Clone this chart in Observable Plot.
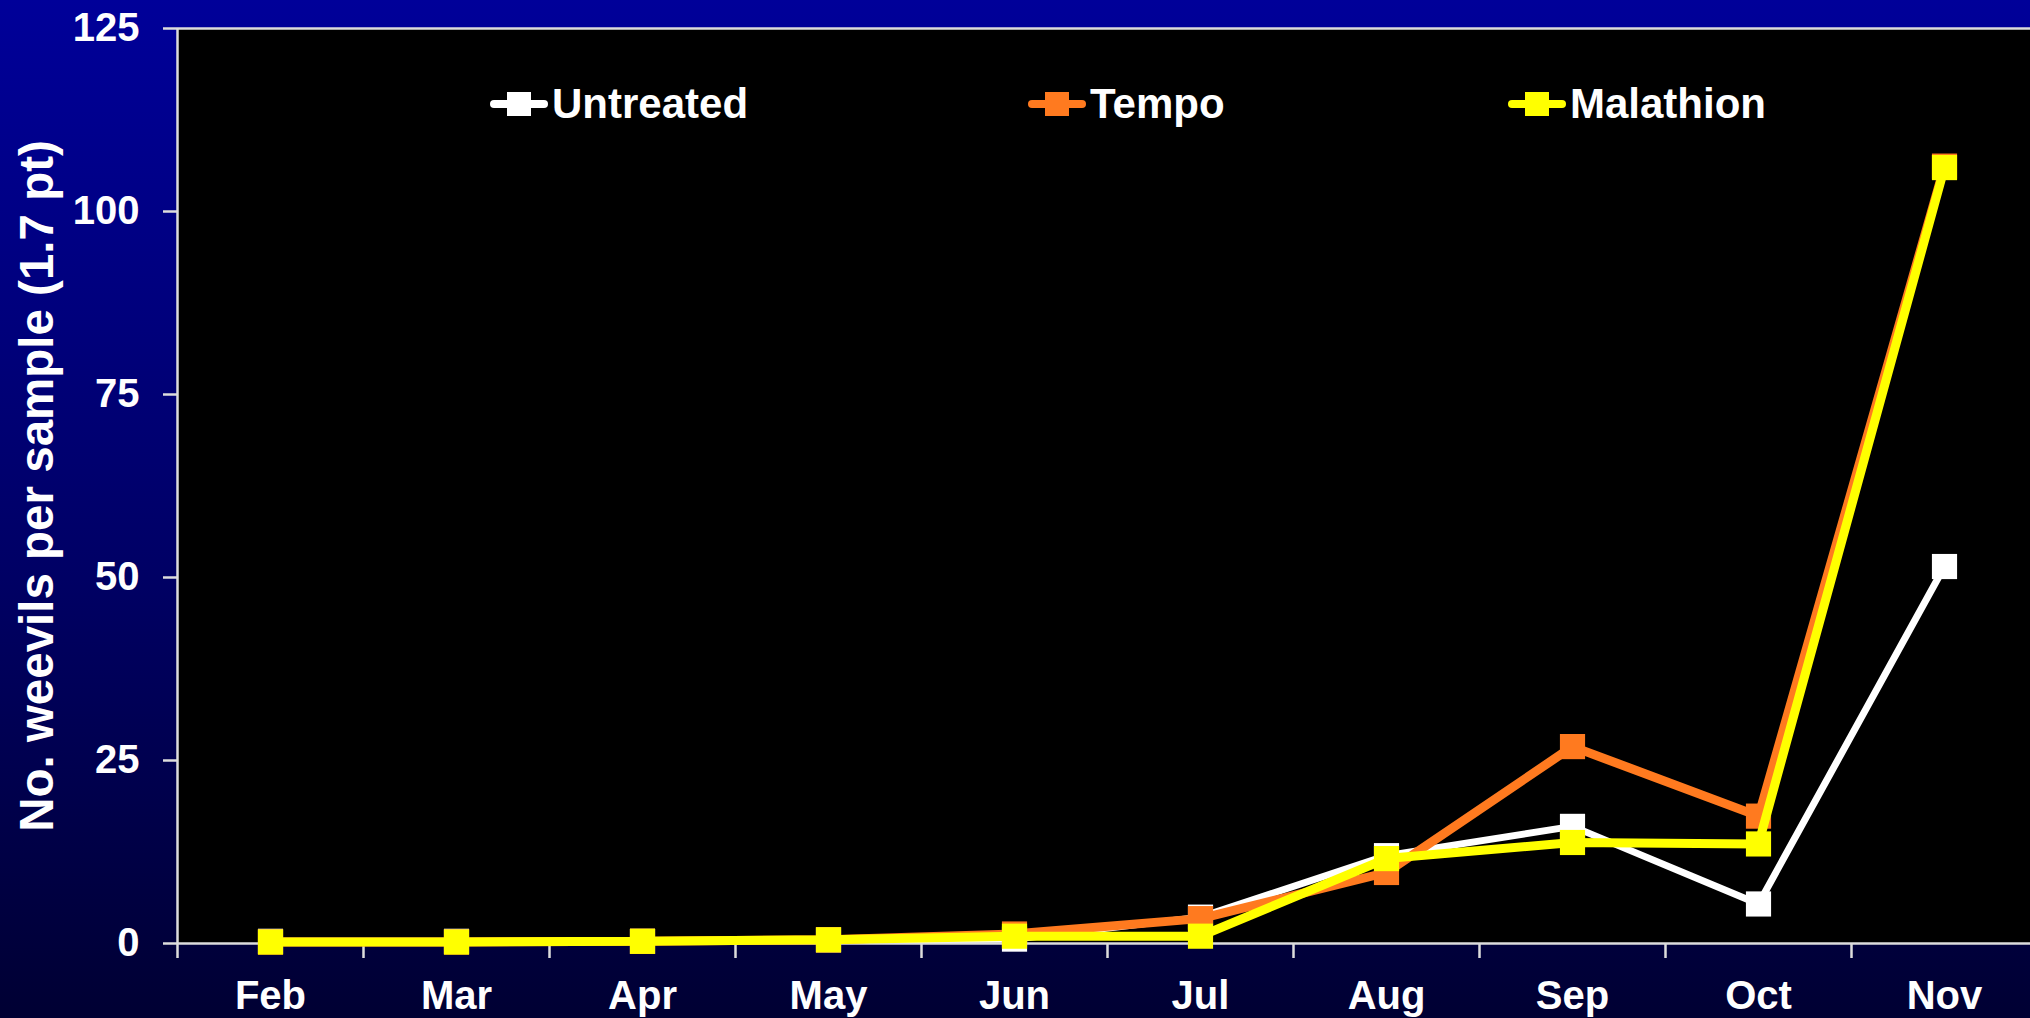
<!DOCTYPE html>
<html><head><meta charset="utf-8">
<script src="https://cdn.jsdelivr.net/npm/d3@7"></script>
<script src="https://cdn.jsdelivr.net/npm/@observablehq/plot@0.6"></script>
<style>
html,body{margin:0;padding:0;width:2030px;height:1018px;overflow:hidden;background:linear-gradient(to bottom,#000099 0%,#000066 55%,#000033 100%);font-family:"Liberation Sans",Arial,sans-serif;}
#wrap{position:relative;width:2030px;height:1018px;}
#legend{position:absolute;left:0;top:80px;width:2030px;height:48px;}
.item{position:absolute;top:0;height:48px;display:flex;align-items:center;color:#fff;font-weight:bold;font-size:42px;white-space:nowrap;}
.item span{margin-left:4px;}
</style></head><body><div id="wrap"></div>
<script>
const months = ["Feb","Mar","Apr","May","Jun","Jul","Aug","Sep","Oct","Nov"];
const untreated = [0.3,0.3,0.3,0.5,0.6,3.6,12.0,16.0,5.4,51.5];
const tempo     = [0.2,0.2,0.3,0.5,1.3,3.4,9.7,26.9,17.4,106.2];
const malathion = [0.2,0.2,0.3,0.5,1.0,1.0,11.6,13.8,13.6,106.0];
const seriesNames = ["Untreated","Tempo","Malathion"];
const seriesColors = ["#ffffff","#ff7a1f","#ffff00"];
const yTicks = [0,25,50,75,100,125];
const yTitle = "No. weevils per sample (1.7 pt)";

const seriesValues = [untreated, tempo, malathion];
const data = seriesNames.flatMap((s, k) => months.map((m, i) => ({series: s, i, month: m, value: seriesValues[k][i]})));
const bounds = d3.range(-0.5, months.length, 1);
const axisColor = "#dddddd";
const font = "'Liberation Sans', Arial, sans-serif";

const marks = [
  Plot.frame({fill: "black", stroke: null}),
  Plot.ruleY([125], {stroke: axisColor, strokeWidth: 2.5}),
  Plot.ruleY([0], {stroke: axisColor, strokeWidth: 2.5}),
  Plot.ruleX([-0.5], {stroke: axisColor, strokeWidth: 2.5}),
  Plot.axisY({ticks: yTicks, tickSize: 14, tickPadding: 24, fontSize: 40, fontWeight: "bold", color: "white", stroke: axisColor, strokeWidth: 2.5, label: null}),
  Plot.axisX({ticks: bounds, tickSize: 15, tickFormat: () => "", stroke: axisColor, strokeWidth: 2.5, label: null}),
  Plot.axisX({ticks: d3.range(months.length), tickSize: 0, tickPadding: 37, tickFormat: i => months[i], fontSize: 40, fontWeight: "bold", color: "white", label: null}),
  Plot.text([yTitle], {frameAnchor: "left", rotate: -90, dx: -140, fontSize: 47.5, fontWeight: "bold", fill: "white", textAnchor: "middle", lineAnchor: "middle"})
];
seriesNames.forEach((s, k) => {
  const d = data.filter(r => r.series === s);
  marks.push(Plot.line(d, {x: "i", y: "value", stroke: seriesColors[k], strokeWidth: k === 0 ? 7 : 9, strokeLinejoin: "miter", strokeLinecap: "butt"}));
  marks.push(Plot.dot(d, {x: "i", y: "value", symbol: "square", r: 14.2, fill: seriesColors[k], stroke: null}));
});

const chart = Plot.plot({
  width: 2030, height: 1018,
  marginLeft: 177, marginRight: 0, marginTop: 28, marginBottom: 75,
  x: {domain: [-0.5, months.length - 0.5], range: [177, 2037]},
  y: {domain: [0, 125]},
  style: {background: "transparent", fontFamily: font, overflow: "visible"},
  marks
});
const wrap = document.getElementById("wrap");
wrap.appendChild(chart);

// legend
const legendLeft = [490, 1028, 1508];
const legend = d3.select(wrap).append("div").attr("id", "legend");
seriesNames.forEach((s, k) => {
  const it = legend.append("div").attr("class", "item").style("left", legendLeft[k] + "px");
  const sv = it.append("svg").attr("width", 58).attr("height", 26);
  sv.append("line").attr("x1", 4).attr("x2", 54).attr("y1", 13).attr("y2", 13)
    .attr("stroke", seriesColors[k]).attr("stroke-width", 8).attr("stroke-linecap", "round");
  sv.append("rect").attr("x", 17).attr("y", 1).attr("width", 24).attr("height", 24).attr("fill", seriesColors[k]);
  it.append("span").text(s);
});
</script></body></html>
